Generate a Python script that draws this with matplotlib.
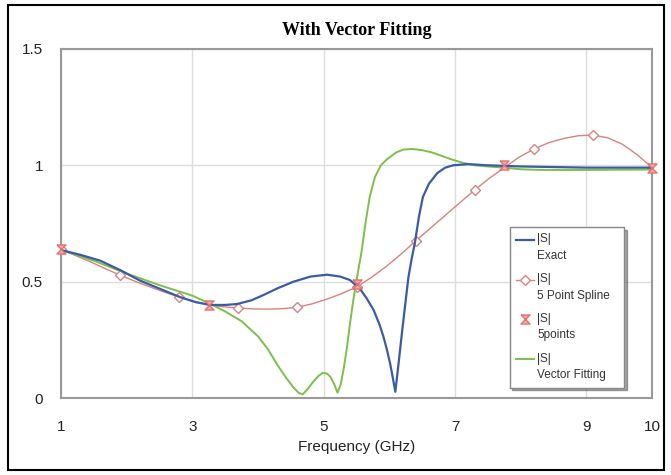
import numpy as np
import matplotlib.pyplot as plt
from matplotlib.patches import Rectangle
from matplotlib.legend_handler import HandlerLine2D

# |S| exact
exact_f = [1.0, 1.3, 1.6, 1.9, 2.2, 2.5, 2.81, 3.05, 3.27, 3.5, 3.68, 3.9, 4.1, 4.3, 4.54, 4.8,
           5.05, 5.25, 5.4, 5.55, 5.65, 5.76, 5.85, 5.91, 5.96, 6.01, 6.05, 6.09, 6.14, 6.19,
           6.24, 6.29, 6.34, 6.39, 6.45, 6.51, 6.6, 6.73, 6.85, 6.97, 7.2, 7.5, 8.0, 9.0, 10.0]
exact_s = [0.636, 0.615, 0.59, 0.55, 0.505, 0.47, 0.434, 0.412, 0.40, 0.40, 0.404, 0.42, 0.445, 0.472, 0.50, 0.522,
           0.53, 0.522, 0.507, 0.47, 0.43, 0.378, 0.315, 0.263, 0.21, 0.149, 0.09, 0.027, 0.15, 0.278,
           0.40, 0.52, 0.60, 0.67, 0.78, 0.864, 0.92, 0.967, 0.99, 1.0, 1.005, 1.0, 0.995, 0.99, 0.99]

# |S| 5 point spline (diamond on every 4th point)
spline_f = [1.0, 1.225, 1.45, 1.675, 1.9, 2.125, 2.35, 2.575, 2.8, 3.025, 3.25, 3.475, 3.7, 3.925,
            4.15, 4.375, 4.6, 4.825, 5.05, 5.275, 5.5, 5.725, 5.95, 6.175, 6.4, 6.625, 6.85, 7.075,
            7.3, 7.525, 7.75, 7.975, 8.2, 8.425, 8.65, 8.875, 9.1, 9.325, 9.55, 9.775, 10.0]
spline_s = [0.64, 0.612, 0.585, 0.556, 0.528, 0.502, 0.478, 0.455, 0.434, 0.416, 0.40, 0.392, 0.387, 0.383,
            0.382, 0.384, 0.39, 0.405, 0.425, 0.449, 0.477, 0.518, 0.565, 0.618, 0.675, 0.73, 0.785, 0.84,
            0.894, 0.945, 0.99, 1.035, 1.07, 1.097, 1.115, 1.127, 1.13, 1.118, 1.09, 1.045, 0.99]

# |S| 5 points
pts_f = [1.0, 3.25, 5.5, 7.75, 10.0]
pts_s = [0.64, 0.40, 0.49, 1.0, 0.99]

# |S| vector fitting
vf_f = [1.0, 1.5, 2.0, 2.5, 3.0, 3.27, 3.5, 3.75, 4.0, 4.15, 4.3, 4.42, 4.54, 4.62, 4.68, 4.76,
        4.84, 4.92, 4.99, 5.05, 5.1, 5.16, 5.21, 5.26, 5.3, 5.35, 5.4, 5.45, 5.5, 5.58, 5.64,
        5.7, 5.78, 5.87, 5.96, 6.1, 6.22, 6.35, 6.5, 6.65, 6.8, 6.95, 7.1, 7.3, 7.5, 7.75,
        8.0, 8.3, 9.0, 10.0]
vf_s = [0.636, 0.59, 0.535, 0.485, 0.44, 0.405, 0.372, 0.33, 0.265, 0.21, 0.14, 0.09, 0.045, 0.022, 0.016, 0.04,
        0.07, 0.095, 0.109, 0.105, 0.092, 0.06, 0.023, 0.06, 0.12, 0.21, 0.32, 0.42, 0.507, 0.636, 0.76,
        0.864, 0.95, 1.0, 1.025, 1.055, 1.068, 1.07, 1.065, 1.055, 1.04, 1.025, 1.012, 1.0, 0.995, 0.99,
        0.983, 0.98, 0.98, 0.982]

xticks = [1, 3, 5, 7, 9, 10]
yticks = [0, 0.5, 1, 1.5]
ylabels = ['0', '0.5', '1', '1.5']

c_blue = '#3b5ba5'
c_red = '#d9837f'
c_pts = '#e8706e'
c_green = '#7cc04b'


class TopHandler(HandlerLine2D):
    # put the handle beside the first line of a two line label
    def create_artists(self, legend, orig_handle, xdescent, ydescent, width, height, fontsize, trans):
        arts = super().create_artists(legend, orig_handle, xdescent, ydescent, width, height, fontsize, trans)
        for a in arts:
            a.set_ydata(np.asarray(a.get_ydata()) + 0.7 * fontsize)
        return arts


hourglass = [(-1, 1), (1, 1), (-1, -1), (1, -1), (-1, 1)]

fig = plt.figure(figsize=(6.71, 4.75), dpi=100)
ax = fig.add_axes([0.0909, 0.162, 0.881, 0.735])

ax.plot(exact_f, exact_s, color=c_blue, lw=1.6, label='|S|\nExact', zorder=4)
ax.plot(spline_f, spline_s, color=c_red, lw=1.0, marker='D', markevery=4, ms=5.5,
        mfc='white', mec=c_red, mew=1.0, label='|S|\n5 Point Spline', zorder=3)
ax.plot(pts_f, pts_s, ls='none', marker=hourglass, ms=6.5, mfc='#f4b0a8', mec=c_pts, mew=1.0,
        label='|S|\n5points', zorder=5, clip_on=False)
ax.plot(vf_f, vf_s, color=c_green, lw=1.4, label='|S|\nVector Fitting', zorder=3)

ax.set_xlim(1, 10)
ax.set_ylim(0, 1.5)
ax.set_xticks(xticks)
ax.set_xticklabels([str(t) for t in xticks])
ax.set_yticks(yticks)
ax.set_yticklabels(ylabels)
ax.tick_params(axis='both', length=0, labelsize=11, colors='#222222')
ax.tick_params(axis='x', pad=16)
ax.tick_params(axis='y', pad=13)
for lab in ax.get_xticklabels() + ax.get_yticklabels():
    lab.set_family('Liberation Sans')
ax.grid(True, color='#dddddd', lw=1.0)
ax.set_axisbelow(True)
for sp in ax.spines.values():
    sp.set_color('#999999')
    sp.set_linewidth(1.5)

ax.set_xlabel('Frequency (GHz)', fontsize=11, family='Liberation Sans', labelpad=4, color='#222222')
ax.set_title('With Vector Fitting', fontsize=13, fontweight='bold', family='Liberation Serif', pad=10)

leg = ax.legend(loc='lower left', bbox_to_anchor=(0.759, 0.03, 0.193, 0.47), mode='expand',
                prop={'family': 'Liberation Sans', 'size': 8.5},
                handler_map={plt.Line2D: TopHandler()}, handlelength=1.5, handletextpad=0.3,
                labelspacing=0.95, borderpad=0.55, borderaxespad=0, fancybox=False, shadow=True,
                framealpha=1)
leg.get_frame().set_edgecolor('#888888')
leg.get_frame().set_linewidth(1.0)
for t in leg.get_texts():
    t.set_linespacing(1.5)
    t.set_color('#333333')

fig.patches.append(Rectangle((0.0119, 0.0105), 0.9776, 0.979, transform=fig.transFigure,
                             fill=False, ec='black', lw=1.5))

plt.savefig('out.png', dpi=100)
